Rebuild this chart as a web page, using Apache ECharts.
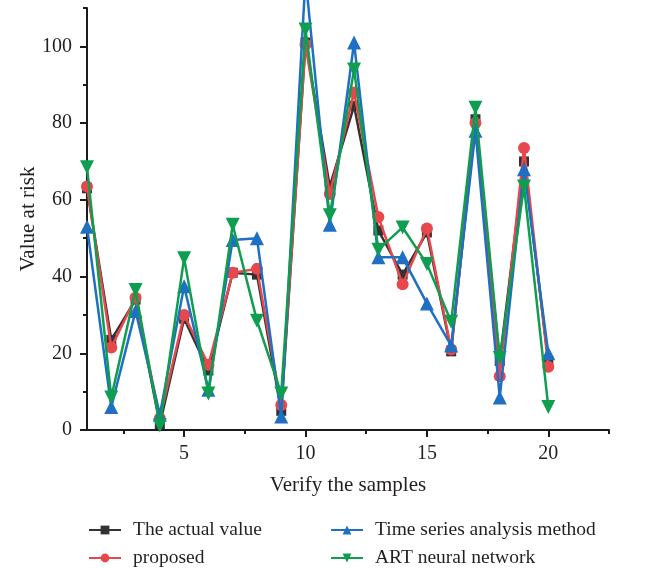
<!DOCTYPE html>
<html>
<head>
<meta charset="utf-8">
<script src="https://cdn.jsdelivr.net/npm/echarts@6/dist/echarts.min.js"></script>
<style>html,body{margin:0;padding:0;background:#fff}#c{width:648px;height:568px}</style>
</head>
<body>
<div id="c"></div>
<script>
const samples = [1,2,3,4,5,6,7,8,9,10,11,12,13,14,15,16,17,18,19,20];
const actualValue = [63,23.5,34,1.5,29,15.5,41,40.5,5,101,63.5,84.5,52,40.5,51.5,20.5,81,18,70,18];
const proposed    = [63.5,21.5,34.5,3,30,17,41,42,6.5,100.5,61.5,88,55.5,38,52.5,21,80,14,73.5,16.5];
const timeSeries  = [53,6,31,4,37.5,10.5,49.5,50,3.5,118,53.5,101,45,45,33,22,78,8.5,68,20];
const artNetwork  = [68.5,8.5,36.5,1.2,44.8,9.5,53.5,28.5,9.5,104.4,56,94,47,52.8,43.3,28.2,84,18.8,63.5,6];
const xLabelValues = [5,10,15,20];
const xMinorTicks = [2.5,7.5,12.5,17.5,22.5];
const yLabelValues = [0,20,40,60,80,100];
const yMinorTicks = [10,30,50,70,90,110];
const seriesNames = ['The actual value','proposed','Time series analysis method','ART neural network'];

const FONT = 'Liberation Serif';
const TXT = '#231f20';
const colors = ['#333333','#e8474c','#1f6fc2','#0f9d50'];
const symbols = ['rect','circle','triangle','triangle'];
const symbolSizes = [10,12,14,14];
const rot = [0,0,0,180];
const dataSets = [actualValue, proposed, timeSeries, artNetwork];

const series = dataSets.map((d,i)=>({
  name: seriesNames[i],
  type: 'line',
  xAxisIndex: 0, yAxisIndex: 0,
  data: d.map((v,j)=>[samples[j], v]),
  symbol: symbols[i],
  symbolSize: symbolSizes[i],
  symbolRotate: rot[i],
  clip: false,
  lineStyle: {color: colors[i], width: 2.5},
  itemStyle: {color: colors[i]},
  z: 2 + i
}));

const legendPos = [[83,515],[83,543],[325,515],[325,543]];
const legends = seriesNames.map((n,i)=>({
  data: [n],
  left: legendPos[i][0], top: legendPos[i][1],
  itemWidth: 32, itemHeight: 11, itemGap: 0,
  textStyle: {fontFamily: FONT, fontSize: 19.5, color: TXT, padding:[0,0,0,7]},
  selectedMode: false
}));

const chart = echarts.init(document.getElementById('c'));
chart.setOption({
  animation: false,
  backgroundColor: '#fff',
  grid: {left: 87, right: 39, top: 8, bottom: 138},
  legend: legends,
  xAxis: [{
    type: 'value', min: 1, max: 22.5, position: 'bottom',
    name: 'Verify the samples', nameLocation: 'middle', nameGap: 45, nameMoveOverlap: false,
    nameTextStyle: {fontFamily: FONT, fontSize: 21, color: TXT},
    axisLine: {show: true, lineStyle: {color: '#1a1a1a', width: 2}},
    axisTick: {show: true, length: 7, lineStyle: {color: '#1a1a1a', width: 2}, customValues: xLabelValues},
    axisLabel: {fontFamily: FONT, fontSize: 20, color: TXT, margin: 14, customValues: xLabelValues},
    splitLine: {show: false}
  },{
    type: 'value', min: 1, max: 22.5, position: 'bottom', offset: 0,
    axisLine: {show: false},
    axisTick: {show: true, length: 4, lineStyle: {color: '#1a1a1a', width: 2}, customValues: xMinorTicks},
    axisLabel: {show: false},
    splitLine: {show: false}
  }],
  yAxis: [{
    type: 'value', min: 0, max: 110, position: 'left',
    name: 'Value at risk', nameLocation: 'middle', nameGap: 48, nameMoveOverlap: false,
    nameTextStyle: {fontFamily: FONT, fontSize: 21, color: TXT},
    axisLine: {show: true, onZero: false, lineStyle: {color: '#1a1a1a', width: 2}},
    axisTick: {show: true, length: 7, lineStyle: {color: '#1a1a1a', width: 2}, customValues: yLabelValues},
    axisLabel: {fontFamily: FONT, fontSize: 20, color: TXT, margin: 15, customValues: yLabelValues},
    splitLine: {show: false}
  },{
    type: 'value', min: 0, max: 110, position: 'left', offset: 0,
    axisLine: {show: false, onZero: false},
    axisTick: {show: true, length: 4, lineStyle: {color: '#1a1a1a', width: 2}, customValues: yMinorTicks},
    axisLabel: {show: false},
    splitLine: {show: false}
  }],
  series: series
});
</script>
</body>
</html>
